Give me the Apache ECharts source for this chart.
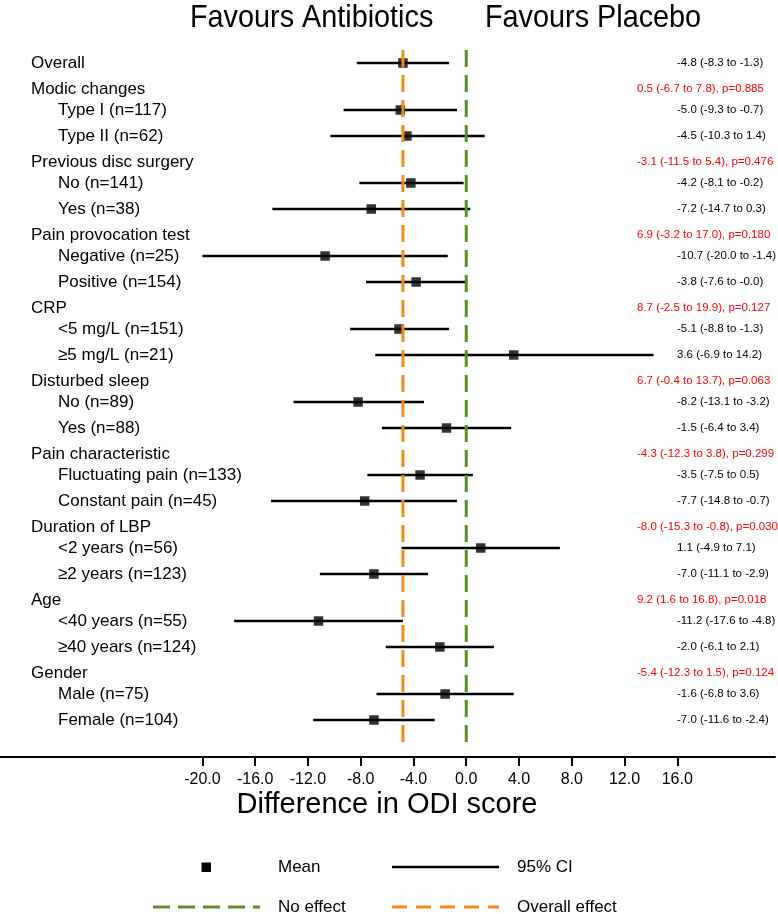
<!DOCTYPE html>
<html>
<head>
<meta charset="utf-8">
<script src="https://cdn.jsdelivr.net/npm/echarts@6/dist/echarts.min.js"></script>
<style>
html,body{margin:0;padding:0;background:#fff;}
#chart{width:778px;height:914px;}
</style>
</head>
<body>
<div id="chart"></div>
<script>
// ---- data ----
const rowLabels = [
  'Overall',
  'Modic changes', 'Type I (n=117)', 'Type II (n=62)',
  'Previous disc surgery', 'No (n=141)', 'Yes (n=38)',
  'Pain provocation test', 'Negative (n=25)', 'Positive (n=154)',
  'CRP', '<5 mg/L (n=151)', '\u22655 mg/L (n=21)',
  'Disturbed sleep', 'No (n=89)', 'Yes (n=88)',
  'Pain characteristic', 'Fluctuating pain (n=133)', 'Constant pain (n=45)',
  'Duration of LBP', '<2 years (n=56)', '\u22652 years (n=123)',
  'Age', '<40 years (n=55)', '\u226540 years (n=124)',
  'Gender', 'Male (n=75)', 'Female (n=104)'
];
const rowKinds = [
  'overall',
  'group','item','item',
  'group','item','item',
  'group','item','item',
  'group','item','item',
  'group','item','item',
  'group','item','item',
  'group','item','item',
  'group','item','item',
  'group','item','item'
];
const means = [-4.8, null, -5.0, -4.5, null, -4.2, -7.2, null, -10.7, -3.8, null, -5.1, 3.6, null, -8.2, -1.5, null, -3.5, -7.7, null, 1.1, -7.0, null, -11.2, -2.0, null, -1.6, -7.0];
const lower = [-8.3, null, -9.3, -10.3, null, -8.1, -14.7, null, -20.0, -7.6, null, -8.8, -6.9, null, -13.1, -6.4, null, -7.5, -14.8, null, -4.9, -11.1, null, -17.6, -6.1, null, -6.8, -11.6];
const upper = [-1.3, null, -0.7, 1.4, null, -0.2, 0.3, null, -1.4, -0.0, null, -1.3, 14.2, null, -3.2, 3.4, null, 0.5, -0.7, null, 7.1, -2.9, null, -4.8, 2.1, null, 3.6, -2.4];
const rightTexts = [
  '-4.8 (-8.3 to -1.3)',
  '0.5 (-6.7 to 7.8), p=0.885', '-5.0 (-9.3 to -0.7)', '-4.5 (-10.3 to 1.4)',
  '-3.1 (-11.5 to 5.4), p=0.476', '-4.2 (-8.1 to -0.2)', '-7.2 (-14.7 to 0.3)',
  '6.9 (-3.2 to 17.0), p=0.180', '-10.7 (-20.0 to -1.4)', '-3.8 (-7.6 to -0.0)',
  '8.7 (-2.5 to 19.9), p=0.127', '-5.1 (-8.8 to -1.3)', '3.6 (-6.9 to 14.2)',
  '6.7 (-0.4 to 13.7), p=0.063', '-8.2 (-13.1 to -3.2)', '-1.5 (-6.4 to 3.4)',
  '-4.3 (-12.3 to 3.8), p=0.299', '-3.5 (-7.5 to 0.5)', '-7.7 (-14.8 to -0.7)',
  '-8.0 (-15.3 to -0.8), p=0.030', '1.1 (-4.9 to 7.1)', '-7.0 (-11.1 to -2.9)',
  '9.2 (1.6 to 16.8), p=0.018', '-11.2 (-17.6 to -4.8)', '-2.0 (-6.1 to 2.1)',
  '-5.4 (-12.3 to 1.5), p=0.124', '-1.6 (-6.8 to 3.6)', '-7.0 (-11.6 to -2.4)'
];
const xTicks = [-20, -16, -12, -8, -4, 0, 4, 8, 12, 16];
const noEffect = 0;
const overallEffect = means[0];

// ---- layout (row positions in vertical axis units = px) ----
const FONT = '"Liberation Sans", Arial, Helvetica, sans-serif';
const rowY = [];
let yy = 63;
rowKinds.forEach((k, i) => {
  if (i > 0) yy += (rowKinds[i - 1] === 'group') ? 21 : 26;
  rowY.push(yy);
});
const refTop = rowY[0] - 13;
const refBottom = rowY[rowY.length - 1] + 23;

const ciData = [], meanData = [], leftData = [], rightData = [];
rowLabels.forEach((lab, i) => {
  leftData.push([0, rowY[i], lab, rowKinds[i]]);
  rightData.push([0, rowY[i], rightTexts[i], rowKinds[i]]);
  if (means[i] !== null) {
    ciData.push([lower[i], upper[i], rowY[i]]);
    meanData.push([means[i], rowY[i]]);
  }
});

const chart = echarts.init(document.getElementById('chart'), null, {renderer: 'canvas'});
const option = {
  backgroundColor: '#ffffff',
  animation: false,
  grid: {left: 0, right: 3, top: 0, bottom: 157, containLabel: false},
  xAxis: {
    type: 'value',
    position: 'bottom',
    min: -35.35, max: 23.41,
    splitLine: {show: false},
    axisLine: {show: true, onZero: false, lineStyle: {color: '#000', width: 2}},
    axisTick: {show: true, length: 9, lineStyle: {color: '#000', width: 2}, customValues: xTicks},
    axisLabel: {
      show: true, customValues: xTicks, margin: 15,
      color: '#000', fontSize: 16, fontFamily: FONT,
      formatter: v => v.toFixed(1)
    }
  },
  yAxis: {
    type: 'value', min: 0, max: 757, inverse: true, show: false
  },
  graphic: [
    {type: 'text', left: 190, top: 2, scaleX: 0.9, originX: 190,
      style: {text: 'Favours Antibiotics', font: '32px ' + FONT, fill: '#000'}},
    {type: 'text', left: 485, top: 2, scaleX: 0.9, originX: 485,
      style: {text: 'Favours Placebo', font: '32px ' + FONT, fill: '#000'}},
    {type: 'text', x: 387, y: 805,
      style: {text: 'Difference in ODI score', font: '29px ' + FONT, fill: '#000', align: 'center', verticalAlign: 'middle'}},
    // legend
    {type: 'rect', shape: {x: 201.5, y: 862.5, width: 9.5, height: 9.5}, style: {fill: '#000'}},
    {type: 'text', x: 278, y: 867, style: {text: 'Mean', font: '17px ' + FONT, fill: '#000', verticalAlign: 'middle'}},
    {type: 'line', shape: {x1: 392, y1: 867, x2: 499, y2: 867}, style: {stroke: '#000', lineWidth: 2.5}},
    {type: 'text', x: 517, y: 867, style: {text: '95% CI', font: '17px ' + FONT, fill: '#000', verticalAlign: 'middle'}},
    {type: 'line', shape: {x1: 153, y1: 907, x2: 260, y2: 907}, style: {stroke: '#5E8C31', lineWidth: 3, lineDash: [17, 8]}},
    {type: 'text', x: 278, y: 907, style: {text: 'No effect', font: '17px ' + FONT, fill: '#000', verticalAlign: 'middle'}},
    {type: 'line', shape: {x1: 392, y1: 907, x2: 499, y2: 907}, style: {stroke: '#F28C1E', lineWidth: 3, lineDash: [15, 9]}},
    {type: 'text', x: 517, y: 907, style: {text: 'Overall effect', font: '17px ' + FONT, fill: '#000', verticalAlign: 'middle'}}
  ],
  series: [
    {
      type: 'custom', name: 'CI', z: 2,
      data: ciData,
      renderItem: (params, api) => {
        const p1 = api.coord([api.value(0), api.value(2)]);
        const p2 = api.coord([api.value(1), api.value(2)]);
        return {type: 'line', shape: {x1: p1[0], y1: p1[1], x2: p2[0], y2: p2[1]},
          style: {stroke: '#000', lineWidth: 2.5}};
      }
    },
    {
      type: 'scatter', name: 'Mean', z: 3,
      symbol: 'rect', symbolSize: 9.5,
      itemStyle: {color: '#000'},
      data: meanData
    },
    {
      type: 'line', name: 'No effect', z: 4, symbol: 'none',
      lineStyle: {color: '#5E8C31', width: 3, type: [17, 8]},
      data: [[noEffect, refTop], [noEffect, refBottom]]
    },
    {
      type: 'line', name: 'Overall effect', z: 4, symbol: 'none',
      lineStyle: {color: '#F28C1E', width: 3, type: [17, 8]},
      data: [[overallEffect, refTop], [overallEffect, refBottom]]
    },
    {
      type: 'custom', name: 'labels', z: 5,
      data: leftData,
      renderItem: (params, api) => {
        const p = api.coord([0, api.value(1)]);
        const kind = leftData[params.dataIndex][3];
        return {type: 'text', x: kind === 'item' ? 58 : 31, y: p[1],
          style: {text: leftData[params.dataIndex][2], font: '17px ' + FONT, fill: '#000', verticalAlign: 'middle'}};
      }
    },
    {
      type: 'custom', name: 'values', z: 5,
      data: rightData,
      renderItem: (params, api) => {
        const p = api.coord([0, api.value(1)]);
        const kind = rightData[params.dataIndex][3];
        const isGroup = kind === 'group';
        return {type: 'text', x: isGroup ? 637 : 677, y: p[1],
          style: {text: rightData[params.dataIndex][2], font: '11.5px ' + FONT, fill: isGroup ? '#FF0000' : '#000', verticalAlign: 'middle'}};
      }
    }
  ]
};
chart.setOption(option);
</script>
</body>
</html>
